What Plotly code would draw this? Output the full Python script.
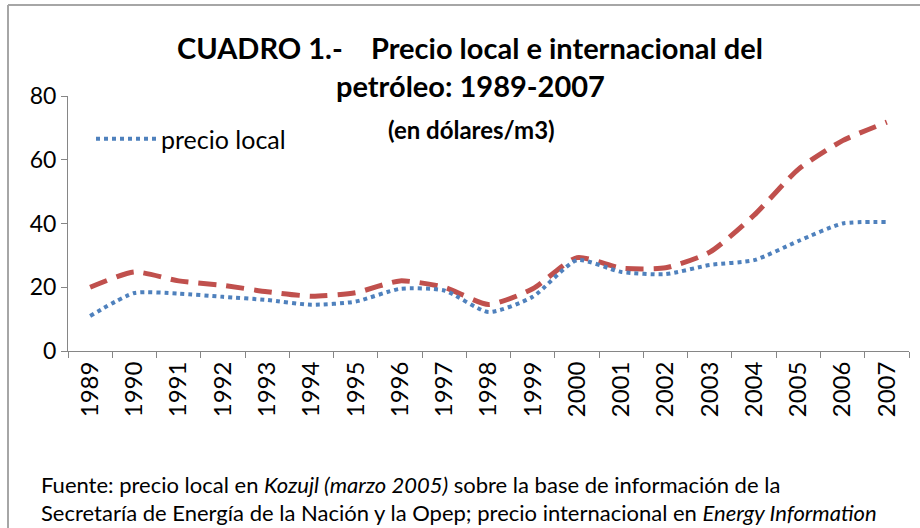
import plotly.graph_objects as go

years = [str(y) for y in range(1989, 2008)]
precio_local = [11, 18.2, 18, 17, 16, 14.5, 15.5, 19.5, 19, 12.2, 17, 28.5, 24.8, 24.1, 27, 28.5, 34.5, 40, 40.5]
precio_internacional = [20, 24.8, 22, 20.6, 18.6, 17.2, 18.3, 22, 20, 14.6, 19.5, 29.3, 26, 26.1, 31, 42.6, 57, 66, 71.8]

title_l1 = "CUADRO 1.-    Precio local e internacional del"
title_l2 = "petróleo: 1989-2007"
subtitle = "(en dólares/m3)"
foot_l1 = "Fuente: precio local en <i>Kozujl (marzo 2005)</i> sobre la base de información de la"
foot_l2 = "Secretaría de Energía de la Nación y la Opep; precio internacional en <i>Energy Information</i>"

FONT = "Lato"
W, H = 920, 528
L, R, T, B = 68, 11, 96, 177
pw, ph = W - L - R, H - T - B

def px(x):
    return (x - L) / pw

def py(y):
    return (H - B - y) / ph

fig = go.Figure()
fig.add_trace(go.Scatter(
    x=years, y=precio_internacional, mode="lines", name="precio internacional",
    line=dict(color="#c0504d", width=5, dash="18px,10px", shape="spline", smoothing=0.6),
    showlegend=False))
fig.add_trace(go.Scatter(
    x=years, y=precio_local, mode="lines", name="precio local",
    line=dict(color="#4f81bd", width=4, dash="dot", shape="spline", smoothing=0.6)))

fig.update_layout(
    width=W, height=H,
    margin=dict(l=L, r=R, t=T, b=B),
    paper_bgcolor="white", plot_bgcolor="white",
    font=dict(family=FONT, color="black", size=18),
    legend=dict(x=px(91), y=py(139), xanchor="left", yanchor="middle", itemwidth=60,
                font=dict(size=25, family=FONT), bgcolor="rgba(0,0,0,0)"),
    xaxis=dict(type="category", tickangle=-90, tickson="boundaries",
               showline=True, linecolor="#868686", linewidth=1,
               ticks="outside", ticklen=6, tickcolor="#868686",
               tickfont=dict(size=24, family=FONT), showgrid=False,
               range=[-0.5, 18.5]),
    yaxis=dict(range=[0, 80], dtick=20, showline=True, linecolor="#868686",
               linewidth=1, ticks="outside", ticklen=6, tickcolor="#868686",
               tickfont=dict(size=23, family=FONT), showgrid=False, zeroline=False),
    shapes=[
        dict(type="line", xref="paper", yref="paper", x0=px(8), x1=px(925),
             y0=py(5), y1=py(5), line=dict(color="#a6a6a6", width=2)),
        dict(type="line", xref="paper", yref="paper", x0=px(8), x1=px(8),
             y0=py(5), y1=py(540), line=dict(color="#a6a6a6", width=2)),
    ],
    annotations=[
        dict(text="<b>" + title_l1 + "</b>", x=px(470), y=py(47), xref="paper", yref="paper",
             showarrow=False, font=dict(size=29, family=FONT), xanchor="center", yanchor="middle"),
        dict(text="<b>" + title_l2 + "</b>", x=px(470), y=py(86), xref="paper", yref="paper",
             showarrow=False, font=dict(size=29, family=FONT), xanchor="center", yanchor="middle"),
        dict(text="<b>" + subtitle + "</b>", x=px(471), y=py(129), xref="paper", yref="paper",
             showarrow=False, font=dict(size=24, family=FONT), xanchor="center", yanchor="middle"),
        dict(text=foot_l1, x=px(39), y=py(484), xref="paper", yref="paper",
             showarrow=False, font=dict(size=22, family=FONT), xanchor="left", yanchor="middle"),
        dict(text=foot_l2, x=px(39), y=py(512), xref="paper", yref="paper",
             showarrow=False, font=dict(size=22, family=FONT), xanchor="left", yanchor="middle"),
    ],
)

fig.write_html("out.html", config={"displayModeBar": False},
               post_script="document.body.style.margin='0';")
